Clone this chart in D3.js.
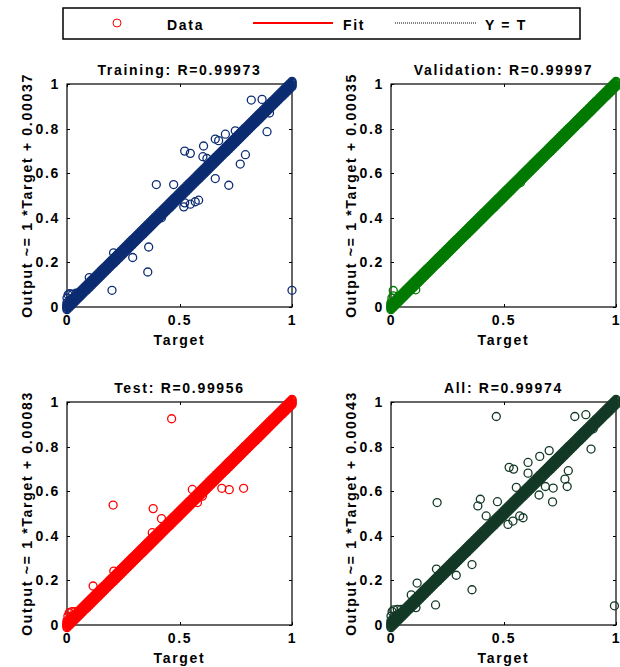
<!DOCTYPE html>
<meta charset="utf-8">
<head>
  <script src="https://cdn.jsdelivr.net/npm/d3@7"></script>
  <style>
    body { margin: 0; background: #fff; }
    text { font-family: "Liberation Sans", Arial, sans-serif; font-weight: bold; letter-spacing: 1.7px; fill: #000; }
    .axis path { display: none; }
    .axis line { stroke: #000; shape-rendering: crispEdges; }
    .axis text { font-size: 14px; }
  </style>
</head>
<body>
<script>

// Datos

var panelTitles = ["Training: R=0.99973", "Validation: R=0.99997", "Test: R=0.99956", "All: R=0.99974"];
var panelIntercepts = ["0.00037", "0.00035", "0.00083", "0.00043"];
var xTicks = [0, 0.5, 1];
var yTicks = [0, 0.2, 0.4, 0.6, 0.8, 1];

// puntos densos sobre la diagonal (la banda gruesa)
var diagTargets = [0,0.01,0.02,0.03,0.04,0.05,0.06,0.07,0.08,0.09,0.1,0.11,0.12,0.13,0.14,0.15,0.16,0.17,0.18,0.19,
  0.2,0.21,0.22,0.23,0.24,0.25,0.26,0.27,0.28,0.29,0.3,0.31,0.32,0.33,0.34,0.35,0.36,0.37,0.38,0.39,
  0.4,0.41,0.42,0.43,0.44,0.45,0.46,0.47,0.48,0.49,0.5,0.51,0.52,0.53,0.54,0.55,0.56,0.57,0.58,0.59,
  0.6,0.61,0.62,0.63,0.64,0.65,0.66,0.67,0.68,0.69,0.7,0.71,0.72,0.73,0.74,0.75,0.76,0.77,0.78,0.79,
  0.8,0.81,0.82,0.83,0.84,0.85,0.86,0.87,0.88,0.89,0.9,0.91,0.92,0.93,0.94,0.95,0.96,0.97,0.98,0.99,1];
var bandOffsets = [-0.012, -0.0072, -0.0024, 0.0024, 0.0072, 0.012];

// grupos cerca del origen [target, output]
var trainingCluster = [[0,0],[0,0.02],[0,0.04],[0.005,0.055],[0.012,0.06],[0.025,0.058],[0.04,0.062],[0.055,0.066],[0.012,0.03],[0.025,0.04],[0.006,0.015]];
var validationCluster = [[0,0],[0,0.02],[0.004,0.04],[0.01,0.05],[0.005,0.012]];
var testCluster = [[0,0],[0,0.02],[0.004,0.04],[0.01,0.055],[0.022,0.06],[0.035,0.06],[0.015,0.035],[0.006,0.012]];
var allCluster = [[0,0],[0,0.02],[0,0.04],[0.005,0.06],[0.012,0.068],[0.028,0.07],[0.045,0.07],[0.012,0.035],[0.025,0.045],[0.006,0.015]];

// puntos alejados [target, output]
var trainingOutliers = [[0.819,0.928],[0.867,0.931],[0.90,0.87],[0.889,0.786],[0.793,0.683],[0.770,0.641],[0.719,0.546],
  [0.659,0.576],[0.704,0.775],[0.659,0.753],[0.674,0.746],[0.748,0.79],[0.607,0.722],[0.604,0.674],[0.622,0.666],
  [0.523,0.699],[0.548,0.689],[0.397,0.549],[0.474,0.549],[0.585,0.479],[0.570,0.472],[0.548,0.461],[0.519,0.449],
  [0.523,0.467],[0.42,0.40],[0.363,0.269],[0.292,0.222],[0.359,0.157],[0.20,0.075],[1.0,0.075],[0.207,0.243],[0.099,0.132]];
var validationOutliers = [[0.01,0.074],[0.11,0.077],[0.576,0.558]];
var testOutliers = [[0.465,0.925],[0.205,0.538],[0.383,0.522],[0.42,0.477],[0.379,0.414],[0.557,0.608],[0.688,0.613],
  [0.721,0.607],[0.785,0.613],[0.58,0.549],[0.602,0.578],[0.116,0.175],[0.208,0.242]];
var allOutliers = [[0.468,0.935],[0.817,0.935],[0.866,0.943],[0.889,0.789],[0.899,0.88],[0.788,0.692],[0.773,0.654],
  [0.783,0.621],[0.721,0.614],[0.686,0.621],[0.718,0.552],[0.658,0.583],[0.661,0.756],[0.703,0.782],[0.609,0.729],
  [0.609,0.681],[0.525,0.707],[0.545,0.699],[0.473,0.553],[0.397,0.564],[0.386,0.534],[0.423,0.489],[0.205,0.549],
  [0.52,0.451],[0.542,0.466],[0.572,0.489],[0.587,0.481],[0.557,0.617],[0.36,0.271],[0.29,0.223],[0.36,0.158],
  [0.198,0.09],[0.993,0.086],[0.116,0.188],[0.111,0.078],[0.09,0.135],[0.202,0.251]];

var clusters = [trainingCluster, validationCluster, testCluster, allCluster];
var outliers = [trainingOutliers, validationOutliers, testOutliers, allOutliers];

// Estilo y posiciones

var panelColors = ["#0d2d72", "#007a00", "#ff0000", "#143a27"];
var colLeft = [67, 391], rowTop = [84, 402];
var w = 225, h = 223, r = 4;

var svg = d3.select("body").append("svg")
  .attr("width", 620).attr("height", 667);

// Leyenda

var leg = svg.append("g");
leg.append("rect").attr("x", 63).attr("y", 8).attr("width", 517).attr("height", 31)
  .attr("fill", "#fff").attr("stroke", "#000").attr("stroke-width", 1.5);
leg.append("circle").attr("cx", 117).attr("cy", 23).attr("r", r)
  .attr("fill", "none").attr("stroke", "#ff0000").attr("stroke-width", 1);
leg.append("text").attr("x", 167).attr("y", 30).attr("font-size", 14).text("Data");
leg.append("line").attr("x1", 253).attr("x2", 333).attr("y1", 23).attr("y2", 23)
  .attr("stroke", "#ff0000").attr("stroke-width", 2);
leg.append("text").attr("x", 343).attr("y", 30).attr("font-size", 14).text("Fit");
leg.append("line").attr("x1", 395).attr("x2", 477).attr("y1", 23).attr("y2", 23)
  .attr("stroke", "#000").attr("stroke-width", 1).attr("stroke-dasharray", "1,1");
leg.append("text").attr("x", 485).attr("y", 30).attr("font-size", 14).text("Y = T");

// Paneles

panelTitles.forEach(function(title, i) {
  var x0 = colLeft[i % 2], y0 = rowTop[Math.floor(i / 2)];
  var color = panelColors[i];

  var xScale = d3.scaleLinear().domain([0, 1]).range([0, w]);
  var yScale = d3.scaleLinear().domain([0, 1]).range([h, 0]);
  var fmt = function(d) { return String(d); };

  var g = svg.append("g").attr("transform", "translate(" + x0 + "," + y0 + ")");

  g.append("rect").attr("width", w).attr("height", h)
    .attr("fill", "#fff").attr("stroke", "#000").attr("stroke-width", 1.2);

  g.append("g").attr("class", "axis").attr("transform", "translate(0," + h + ")")
    .call(d3.axisBottom(xScale).tickValues(xTicks).tickFormat(fmt).tickSizeInner(-3).tickSizeOuter(0).tickPadding(8));
  g.append("g").attr("class", "axis")
    .call(d3.axisLeft(yScale).tickValues(yTicks).tickFormat(fmt).tickSizeInner(-3).tickSizeOuter(0).tickPadding(7));
  g.append("g").attr("class", "axis")
    .call(d3.axisTop(xScale).tickValues(xTicks).tickFormat("").tickSizeInner(-3).tickSizeOuter(0));
  g.append("g").attr("class", "axis").attr("transform", "translate(" + w + ",0)")
    .call(d3.axisRight(yScale).tickValues(yTicks).tickFormat("").tickSizeInner(-3).tickSizeOuter(0));

  // Y = T y ajuste (quedan bajo la banda)
  g.append("line")
    .attr("x1", xScale(0)).attr("y1", yScale(0)).attr("x2", xScale(1)).attr("y2", yScale(1))
    .attr("stroke", "#000").attr("stroke-dasharray", "1,1");
  g.append("line")
    .attr("x1", xScale(0)).attr("y1", yScale(+panelIntercepts[i])).attr("x2", xScale(1)).attr("y2", yScale(1 + +panelIntercepts[i]))
    .attr("stroke", color).attr("stroke-width", 2);

  var band = [];
  diagTargets.forEach(function(t) {
    bandOffsets.forEach(function(o) { band.push([t, t + o]); });
  });
  var pts = band.concat(clusters[i], outliers[i]);

  g.selectAll("circle.pt").data(pts).enter().append("circle")
    .attr("class", "pt")
    .attr("cx", function(d) { return xScale(d[0]); })
    .attr("cy", function(d) { return yScale(d[1]); })
    .attr("r", r)
    .attr("fill", "none")
    .attr("stroke", color)
    .attr("stroke-width", 1.3);

  g.append("text").attr("x", w / 2).attr("y", -9).attr("text-anchor", "middle")
    .attr("font-size", 14).text(title);
  g.append("text").attr("x", w / 2).attr("y", h + 38).attr("text-anchor", "middle")
    .attr("font-size", 14).text("Target");
  g.append("text")
    .attr("transform", "translate(-35," + (h / 2) + ") rotate(-90)")
    .attr("text-anchor", "middle").attr("font-size", 14)
    .text("Output ~= 1 *Target + " + panelIntercepts[i]);
});

</script>
</body>
